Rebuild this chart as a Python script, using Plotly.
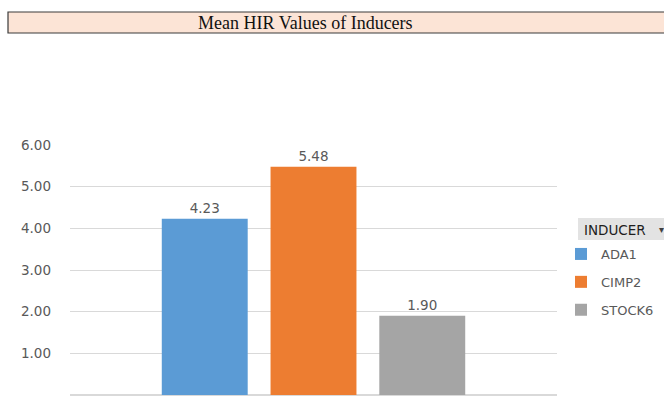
import plotly.graph_objects as go

# Mean HIR per inducer
inducers = ["ADA1", "CIMP2", "STOCK6"]
mean_hir = [4.23, 5.48, 1.90]
colors = ["#5B9BD5", "#ED7D31", "#A5A5A5"]
tick_vals = [0, 1, 2, 3, 4, 5, 6]
tick_text = ["0.00", "1.00", "2.00", "3.00", "4.00", "5.00", "6.00"]

W, H = 664, 396
L, R, T, B = 70, 107, 145, 1
pw, ph = W - L - R, H - T - B
FONT = "DejaVu Sans"


def px(x):
    return (x - L) / pw


def py(y):
    return (H - B - y) / ph


fig = go.Figure()
for name, val, col in zip(inducers, mean_hir, colors):
    fig.add_trace(go.Bar(
        x=["Inducer"], y=[val], name=name, legendgroup=name,
        marker=dict(color=col, line=dict(width=0)),
        text=[f"{val:.2f}"], textposition="outside",
        textfont=dict(family=FONT, size=13.5, color="#595959"),
        cliponaxis=False,
    ))

# Title banner
fig.add_shape(type="rect", xref="paper", yref="paper",
              x0=px(8), x1=px(680), y0=py(33), y1=py(12),
              fillcolor="#FCE4D6", line=dict(color="#3A3A3A", width=1.2),
              layer="below")
fig.add_annotation(xref="paper", yref="paper", x=px(305), y=py(22.5),
                   text="Mean HIR Values of Inducers", showarrow=False,
                   font=dict(family="Liberation Serif", size=18, color="#111111"),
                   xanchor="center", yanchor="middle")

# Legend header
fig.add_shape(type="rect", xref="paper", yref="paper",
              x0=px(578), x1=px(668), y0=py(240), y1=py(218),
              fillcolor="#E3E3E3", line=dict(width=0), layer="below")
fig.add_annotation(xref="paper", yref="paper", x=px(582), y=py(229.5),
                   text="INDUCER", showarrow=False, xanchor="left",
                   yanchor="middle",
                   font=dict(family=FONT, size=13.5, color="#1E1E1E"))
fig.add_annotation(xref="paper", yref="paper", x=px(661), y=py(229.5),
                   text="▾", showarrow=False, xanchor="center",
                   yanchor="middle",
                   font=dict(family=FONT, size=10, color="#404040"))

fig.update_layout(
    width=W, height=H,
    margin=dict(l=L, r=R, t=T, b=B, pad=0),
    paper_bgcolor="white", plot_bgcolor="white",
    barmode="group", bargap=0.33, bargroupgap=0.21,
    showlegend=True,
    legend=dict(
        x=px(561), y=py(239), xanchor="left", yanchor="top",
        bgcolor="rgba(0,0,0,0)",
        font=dict(family=FONT, size=13, color="#595959"),
        tracegroupgap=8, itemwidth=30,
    ),
    xaxis=dict(showticklabels=False, showgrid=False, zeroline=False,
               showline=False, ticks=""),
    yaxis=dict(range=[0, 6], tickvals=tick_vals, ticktext=tick_text,
               showgrid=True, gridcolor="#D9D9D9", gridwidth=1,
               zeroline=True, zerolinecolor="#D9D9D9",
               ticks="", ticklabelstandoff=18,
               tickfont=dict(family=FONT, size=13.5, color="#595959")),
)

fig.write_html("out.html")
